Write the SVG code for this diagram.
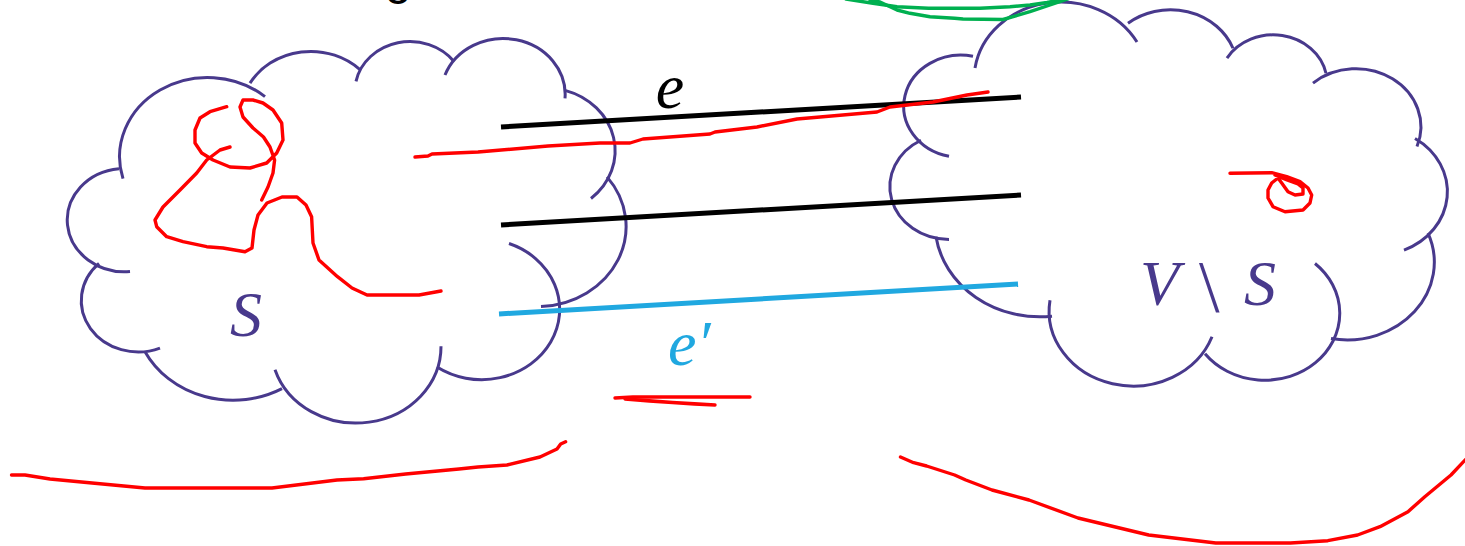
<svg xmlns="http://www.w3.org/2000/svg" width="1465" height="546" viewBox="0 0 1465 546">
<style>
.cloud{fill:none;stroke:#48398C;stroke-width:3;vector-effect:non-scaling-stroke;stroke-linecap:butt}
.lbl{font-family:"Liberation Serif","DejaVu Serif",serif;font-size:64px;font-style:italic}
.edge{stroke-width:5;fill:none}
.ink{fill:none;stroke:#FF0000;stroke-width:3.4;stroke-linecap:round;stroke-linejoin:round}
.green{fill:none;stroke:#00B050;stroke-width:3.4;stroke-linecap:round;stroke-linejoin:round}
</style>
<rect width="1465" height="546" fill="#FFFFFF"/>
<text x="385" y="-6" font-family="Liberation Sans, Arial, sans-serif" font-size="48" fill="#000000">g</text>

<g id="node-S">
  <g transform="matrix(1 0 0 0.901 0 2.97)">
    <path class="cloud" d="M123,195 A88,88 0 0 1 265,104"/>
    <path class="cloud" d="M250,89 A70,70 0 0 1 360,74"/>
    <path class="cloud" d="M356,87 A55,55 0 0 1 454,65"/>
    <path class="cloud" d="M445,80 A62,62 0 0 1 565,106"/>
    <path class="cloud" d="M565,97 A70,70 0 0 1 591,217"/>
    <path class="cloud" d="M607,193 A89,89 0 0 1 541,337"/>
    <path class="cloud" d="M509,267 A78,78 0 1 1 437,404"/>
    <path class="cloud" d="M441,381 A85,85 0 0 1 275,407"/>
    <path class="cloud" d="M282,428 A99,99 0 0 1 145,387"/>
    <path class="cloud" d="M160,383 A57,57 0 0 1 99,289"/>
    <path class="cloud" d="M119,184 A57,57 0 0 0 130,298"/>
  </g>
  <text class="lbl" x="246" y="336" text-anchor="middle" fill="#48398C">S</text>
</g>

<g id="node-VS">
  <g transform="matrix(1 0 0 0.8933 0 0)">
    <path class="cloud" d="M975,76 A87,87 0 0 1 1137,47"/>
    <path class="cloud" d="M1128,26 A67,67 0 0 1 1233,54"/>
    <path class="cloud" d="M1227,65 A54,54 0 0 1 1326,82"/>
    <path class="cloud" d="M1313,93 A65,65 0 0 1 1417,164"/>
    <path class="cloud" d="M1415,155 A71,71 0 0 1 1404,280"/>
    <path class="cloud" d="M1428,261 A87,87 0 0 1 1331,379"/>
    <path class="cloud" d="M1315,295 A75,75 0 1 1 1205,396"/>
    <path class="cloud" d="M1050,336 A84,84 0 0 0 1212,377"/>
    <path class="cloud" d="M936,265 A105,105 0 0 0 1052,354"/>
    <path class="cloud" d="M921,157 A59,59 0 0 0 949,268"/>
    <path class="cloud" d="M973,63 A57,57 0 0 0 949,175"/>
  </g>
  <text class="lbl" y="305" fill="#48398C"><tspan x="1140">V</tspan><tspan x="1199" y="312" font-size="74" font-style="normal">\</tspan><tspan x="1244" y="305">S</tspan></text>
</g>

<g id="connectors">
  <line class="edge" x1="501" y1="127" x2="1021" y2="97" stroke="#000000"/>
  <line class="edge" x1="501" y1="225" x2="1021" y2="195" stroke="#000000"/>
  <line class="edge" x1="499" y1="314" x2="1018" y2="284" stroke="#20A8E0" stroke-width="6"/>
  <text class="lbl" x="670" y="108" text-anchor="middle" fill="#000000">e</text>
  <text class="lbl" x="668" y="365" fill="#20A8E0">e′</text>
</g>

<g id="annotations-red">
  <path class="ink" d="M415,157 L428,156 L432,154 L478,152 L548,146 L600,143 L630,143 L643,139 L710,134 L715,132 L757,127 L797,119 L820,117 L877,112 L890,107 L933,102 L967,95 L981,93 L988,92"/>
  <path class="ink" d="M226.7,106.7 L210,111.7 L200,118 L195,130 L195,143 L201.7,153 L213,160 L230,167 L250,168 L266.7,163 L276.7,153 L283,140 L281.7,123 L273,110 L263,103 L253,100 L243,100 L240,107 L243,117 L253,128 L263.5,137 L270,147 L274.6,160 L273,173 L268,187 L261.7,200"/>
  <path class="ink" d="M230,147 L220,150 L206.7,160 L196.7,173 L180,190 L163,207 L155,220 L156.7,226.7 L166.7,236.7 L183,241.7 L206.7,246.7 L223,248 L245,251.7 L252,248 L254,230 L258,215 L267,203 L282,197 L297,197 L306,205 L311.6,216.7 L313,243 L319,260 L337.5,276.7 L352,288 L367,295 L419,295 L441,291"/>
  <path class="ink" d="M11.5,475 L25,475 L50,479 L92,483 L145,488 L272,488 L337,480 L363.6,478.7 L405.7,474 L459,469 L478,467 L507,465 L540,457 L557,449 L560.7,444 L565.6,441.7"/>
  <path class="ink" d="M900.5,457 L913.6,462.7 L926.6,466 L954.6,475 L965.8,480 L992,490 L1029,500 L1078,518 L1148.7,535 L1215.8,543 L1290.4,543 L1327.8,540.7 L1357.6,535 L1380,526.7 L1408,511.7 L1424.8,496.7 L1451,475 L1467,458"/>
  <path class="ink" d="M615,398 L633,397 L750,397"/>
  <path class="ink" stroke-width="4.5" d="M625,399 Q675,403 715,405"/>
  <path class="ink" d="M1230,173.3 L1271.7,172.7 L1286.7,176.7 L1300,181.7 L1308,188 L1311.7,195 L1310,203 L1303,210 L1285,211.7 L1273,206.7 L1268,198 L1268,190 L1271.7,183 L1278,178 L1281.7,183 L1288,191.7 L1295,195 L1303,194 L1303,188 L1298,184 L1287,180 L1275,175"/>
</g>

<g id="annotations-green">
  <path class="green" d="M846,-1 L873,3.3 L897,6.7 L928.5,8.3 L980,8.3 L1010,6.7 L1030,5 L1047,2.5 L1064,-1"/>
  <path class="green" d="M870,0 L880,2 L897,10 L910,13.3 L930,16.7 L954.6,18.3 L963,19 L1003,19.5 L1030,11.7 L1050,5 L1068,-1"/>
</g>
</svg>
